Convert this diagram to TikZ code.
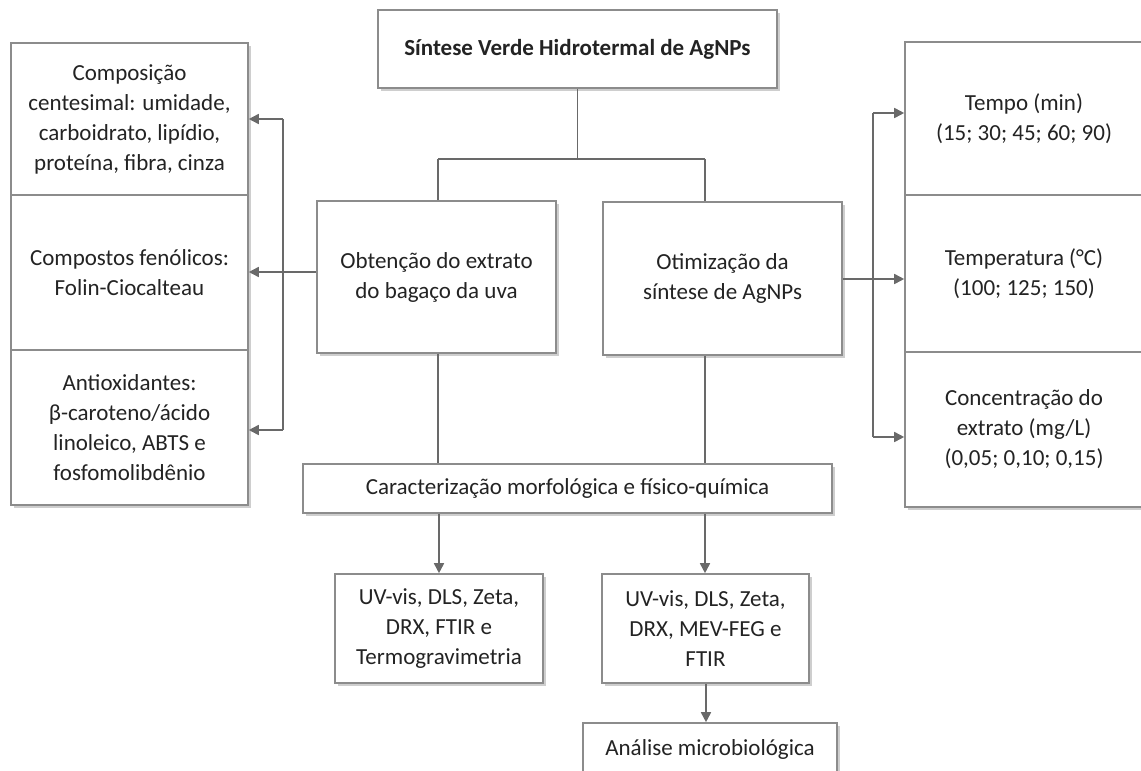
\documentclass[tikz,border=0pt]{standalone}
\usepackage{fontspec}
\setmainfont{Carlito}
\usetikzlibrary{shadows,arrows.meta}
\definecolor{bordc}{RGB}{140,140,140}
\definecolor{linec}{RGB}{105,105,105}
\definecolor{txtc}{RGB}{35,35,35}
\begin{document}
\begin{tikzpicture}[x=1pt,y=-1pt,
  box/.style={draw=bordc, line width=1.6pt, fill=white, align=center, text=txtc,
    inner sep=2pt, font=\fontsize{23}{30}\selectfont,
    drop shadow={shadow xshift=3pt, shadow yshift=-3pt, fill=black!35, opacity=0.55}},
  conn/.style={draw=linec, line width=1.7pt},
  arr/.style={conn, -{Triangle[length=10pt,width=10pt]}}]
\useasboundingbox (0,0) rectangle (1141,771);
\clip (0,0) rectangle (1141,771);
% boxes
\node[box, minimum width=399pt, minimum height=78pt] (top) at (577.5,49) {\textbf{Síntese Verde Hidrotermal de AgNPs}};
\node[box, minimum width=237pt, minimum height=152pt] (L1) at (129.5,119) {Composição\\centesimal: umidade,\\carboidrato, lipídio,\\proteína, fibra, cinza};
\node[box, minimum width=237pt, minimum height=155pt] (L2) at (129.5,272.5) {Compostos fenólicos:\\Folin-Ciocalteau};
\node[box, minimum width=237pt, minimum height=155pt] (L3) at (129.5,427.5) {Antioxidantes:\\β-caroteno/ácido\\linoleico, ABTS e\\fosfomolibdênio};
\node[box, minimum width=239pt, minimum height=152pt] (extr) at (436.5,277) {Obtenção do extrato\\do bagaço da uva};
\node[box, minimum width=239pt, minimum height=153pt] (otim) at (722.5,278.5) {Otimização da\\síntese de AgNPs};
\node[box, minimum width=238pt, minimum height=153pt] (R1) at (1024,118.5) {Tempo (min)\\(15; 30; 45; 60; 90)};
\node[box, minimum width=238pt, minimum height=157pt] (R2) at (1024,273.5) {Temperatura (°C)\\(100; 125; 150)};
\node[box, minimum width=238pt, minimum height=155pt] (R3) at (1024,429.5) {Concentração do\\extrato (mg/L)\\(0,05; 0,10; 0,15)};
\node[box, minimum width=529pt, minimum height=49pt] (carac) at (567.5,488.5) {Caracterização morfológica e físico-química};
\node[box, minimum width=208pt, minimum height=109pt] (B1) at (439,628.5) {UV-vis, DLS, Zeta,\\DRX, FTIR e\\Termogravimetria};
\node[box, minimum width=207pt, minimum height=109pt] (B2) at (705.5,628.5) {UV-vis, DLS, Zeta,\\DRX, MEV-FEG e\\FTIR};
\node[box, minimum width=254pt, minimum height=52pt] (An) at (710,749) {Análise microbiológica};
% junction coordinates
\coordinate (jl) at (438,159);
\coordinate (jr) at (705,159);
\coordinate (lv) at (283,272);
\coordinate (lt) at (283,119);
\coordinate (lb) at (283,430);
\coordinate (rv) at (873,279);
\coordinate (rt) at (873,113);
\coordinate (rb) at (873,437);
\coordinate (b1x) at (439,0);
\coordinate (b2x) at (706,0);
% top tree
\draw[conn] (top.south) -- (top.south |- jl);
\draw[conn] (jl) -- (jr);
\draw[conn] (jl) -- (jl |- extr.north);
\draw[conn] (jr) -- (jr |- otim.north);
\draw[conn] (jl |- extr.south) -- (jl |- carac.north);
\draw[conn] (jr |- otim.south) -- (jr |- carac.north);
\draw[arr] (b1x |- carac.south) -- (b1x |- B1.north);
\draw[arr] (jr |- carac.south) -- (jr |- B2.north);
\draw[arr] (b2x |- B2.south) -- (b2x |- An.north);
% left side
\draw[conn, line width=2.8pt] (extr.west |- lv) -- (lv);
\draw[arr] (lv) -- (L2.east |- lv);
\draw[conn] (lt) -- (lb);
\draw[arr] (lt) -- (L1.east |- lt);
\draw[arr] (lb) -- (L3.east |- lb);
% right side
\draw[conn, line width=2.8pt] (otim.east |- rv) -- (rv);
\draw[arr] (rv) -- (R2.west |- rv);
\draw[conn] (rt) -- (rb);
\draw[arr] (rt) -- (R1.west |- rt);
\draw[arr] (rb) -- (R3.west |- rb);
\end{tikzpicture}
\end{document}
